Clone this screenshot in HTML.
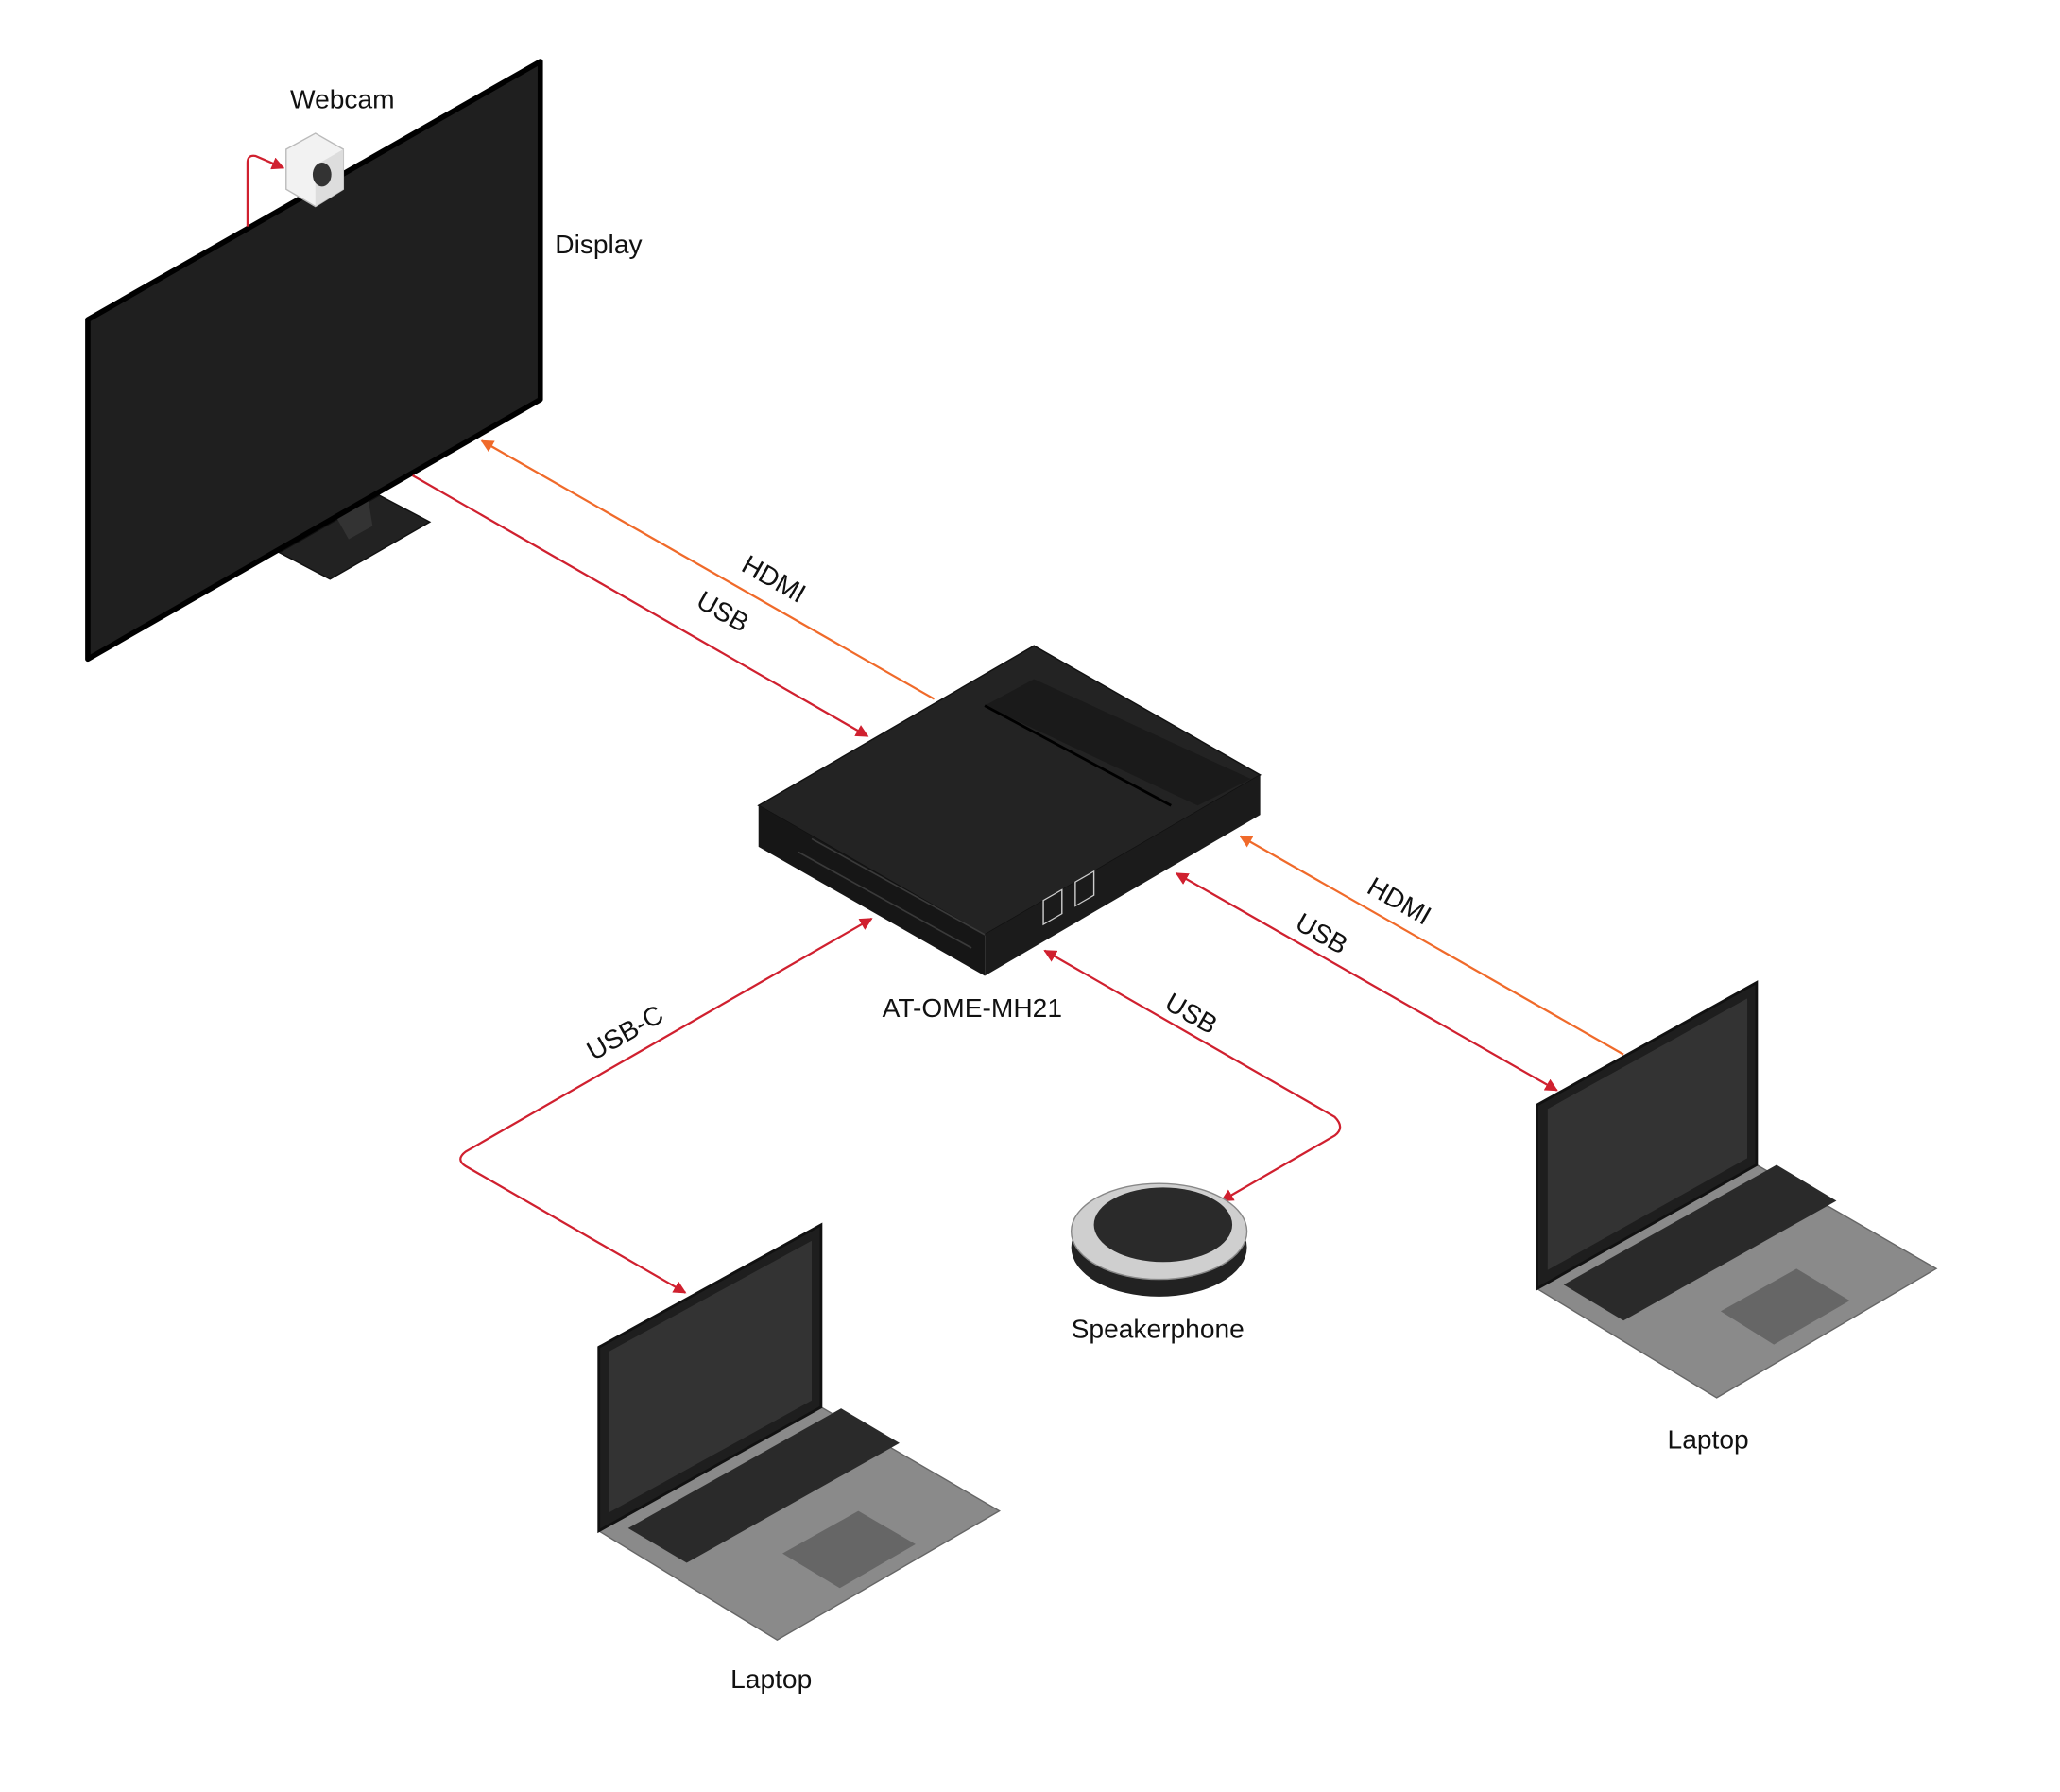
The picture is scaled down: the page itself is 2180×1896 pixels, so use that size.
<!DOCTYPE html>
<html><head><meta charset="utf-8"><style>
html,body{margin:0;padding:0;background:#fff}
svg{display:block}
text{font-family:"Liberation Sans",sans-serif;font-size:20px;fill:#111}
</style></head><body>
<svg width="2180" height="1896" viewBox="0 0 1548 1346" xmlns="http://www.w3.org/2000/svg">
<defs>
<marker id="ar" viewBox="0 0 10 10" refX="9" refY="5" markerWidth="6" markerHeight="6" orient="auto-start-reverse"><path d="M0,0L10,5L0,10z" fill="#d0202f"/></marker>
<marker id="ao" viewBox="0 0 10 10" refX="9" refY="5" markerWidth="6" markerHeight="6" orient="auto-start-reverse"><path d="M0,0L10,5L0,10z" fill="#f06a2a"/></marker>
</defs>
<!-- Display stand -->
<polygon points="210,415 285,372 323,392 248,435" fill="#222" stroke="#111"/>
<polygon points="248,380 275,365 280,395 262,405" fill="#333"/>
<!-- Display -->
<polygon points="66,240 406,46 406,300 66,495" fill="#1f1f1f" stroke="#000" stroke-width="4" stroke-linejoin="round"/>
<!-- Webcam -->
<path d="M186,170 L186,122 Q186,116 192,117 L213,126" fill="none" stroke="#d0202f" stroke-width="1.6" marker-end="url(#ar)"/>
<polygon points="215,112 237,100 258,112 258,142 237,155 215,142" fill="#f2f2f2" stroke="#bbb"/>
<polygon points="237,124 258,112 258,142 237,155" fill="#ddd"/>
<ellipse cx="242" cy="131" rx="7" ry="9" fill="#333"/>
<text x="218" y="81">Webcam</text>
<text x="417" y="190">Display</text>
<!-- Lines display-device -->
<line x1="702" y1="525" x2="362" y2="331" stroke="#f06a2a" stroke-width="1.6" marker-end="url(#ao)"/>
<line x1="310" y1="357" x2="652" y2="553" stroke="#d0202f" stroke-width="1.6" marker-end="url(#ar)"/>
<text x="0" y="0" transform="translate(556,428) rotate(29.7)">HDMI</text>
<text x="0" y="0" transform="translate(522,455) rotate(29.7)">USB</text>
<!-- Device -->
<polygon points="570,605 777,485 947,582 740,702" fill="#232323" stroke="#111"/>
<polygon points="740,530 777,510 940,585 900,605" fill="#1a1a1a"/>
<line x1="740" y1="530" x2="880" y2="605" stroke="#000" stroke-width="2"/>
<polygon points="570,605 740,702 740,733 570,636" fill="#161616"/>
<polygon points="740,702 947,582 947,612 740,733" fill="#1b1b1b"/>
<g stroke="#3a3a3a" stroke-width="1.2">
<line x1="600" y1="640" x2="730" y2="712"/><line x1="610" y1="630" x2="740" y2="702"/>
</g>
<rect x="784" y="676" width="14" height="18" fill="none" stroke="#ccc" transform="skewY(-30) translate(0,453)"/>
<rect x="808" y="662" width="14" height="18" fill="none" stroke="#ccc" transform="skewY(-30) translate(0,467)"/>
<text x="663" y="764">AT-OME-MH21</text>
<!-- USB-C to left laptop -->
<path d="M655,690 L350,865 Q342,871 350,876 L515,971" fill="none" stroke="#d0202f" stroke-width="1.6" marker-start="url(#ar)" marker-end="url(#ar)"/>
<text x="0" y="0" transform="translate(446,797) rotate(-29.7)">USB-C</text>
<!-- USB speakerphone -->
<path d="M785,714 L1003,839 Q1011,847 1003,853 L918,902" fill="none" stroke="#d0202f" stroke-width="1.6" marker-start="url(#ar)" marker-end="url(#ar)"/>
<text x="0" y="0" transform="translate(874,757) rotate(29.7)">USB</text>
<!-- Right laptop lines -->
<line x1="884" y1="656" x2="1170" y2="819" stroke="#d0202f" stroke-width="1.6" marker-start="url(#ar)" marker-end="url(#ar)"/>
<line x1="1220" y1="792" x2="932" y2="628" stroke="#f06a2a" stroke-width="1.6" marker-end="url(#ao)"/>
<text x="0" y="0" transform="translate(972,697) rotate(29.7)">USB</text>
<text x="0" y="0" transform="translate(1026,670) rotate(29.7)">HDMI</text>
<!-- Speakerphone -->
<ellipse cx="871" cy="937" rx="66" ry="37" fill="#222"/>
<ellipse cx="871" cy="925" rx="66" ry="36" fill="#cfcfcf" stroke="#888"/>
<ellipse cx="874" cy="920" rx="52" ry="28" fill="#2a2a2a"/>
<text x="805" y="1005">Speakerphone</text>
<!-- Right laptop -->
<polygon points="1155,968 1320,875 1455,953 1290,1050" fill="#8a8a8a" stroke="#666"/>
<polygon points="1175,965 1335,875 1380,902 1220,992" fill="#2a2a2a"/>
<polygon points="1293,985 1350,953 1390,977 1333,1010" fill="#666"/>
<polygon points="1155,830 1320,738 1320,875 1155,968" fill="#1e1e1e" stroke="#111" stroke-width="2"/>
<polygon points="1163,833 1313,750 1313,870 1163,954" fill="#333"/>
<text x="1253" y="1088">Laptop</text>
<!-- Left laptop -->
<polygon points="450,1150 617,1057 751,1135 584,1232" fill="#8a8a8a" stroke="#666"/>
<polygon points="472,1148 632,1058 676,1084 516,1174" fill="#2a2a2a"/>
<polygon points="588,1167 645,1135 688,1160 631,1193" fill="#666"/>
<polygon points="450,1012 617,920 617,1057 450,1150" fill="#1e1e1e" stroke="#111" stroke-width="2"/>
<polygon points="458,1015 610,932 610,1052 458,1136" fill="#333"/>
<text x="549" y="1268">Laptop</text>
</svg>
</body></html>
